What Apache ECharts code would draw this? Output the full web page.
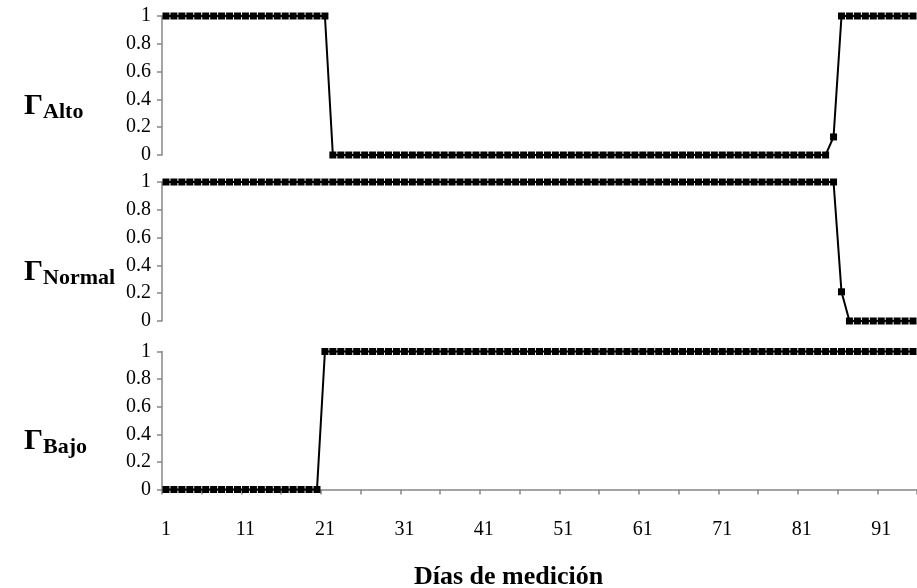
<!DOCTYPE html>
<html>
<head>
<meta charset="utf-8">
<style>html,body{margin:0;padding:0;background:#fff}#c{width:917px;height:588px}</style>
<script src="https://cdn.jsdelivr.net/npm/echarts@6/dist/echarts.min.js"></script>
</head>
<body>
<div id="c"></div>
<script>
// Days of measurement (categories)
var days = [1,2,3,4,5,6,7,8,9,10,11,12,13,14,15,16,17,18,19,20,
  21,22,23,24,25,26,27,28,29,30,31,32,33,34,35,36,37,38,39,40,
  41,42,43,44,45,46,47,48,49,50,51,52,53,54,55,56,57,58,59,60,
  61,62,63,64,65,66,67,68,69,70,71,72,73,74,75,76,77,78,79,80,
  81,82,83,84,85,86,87,88,89,90,91,92,93,94,95];

var alto = [1,1,1,1,1,1,1,1,1,1,1,1,1,1,1,1,1,1,1,1,
  1,0,0,0,0,0,0,0,0,0,0,0,0,0,0,0,0,0,0,0,
  0,0,0,0,0,0,0,0,0,0,0,0,0,0,0,0,0,0,0,0,
  0,0,0,0,0,0,0,0,0,0,0,0,0,0,0,0,0,0,0,0,
  0,0,0,0,0.13,1,1,1,1,1,1,1,1,1,1];

var normal = [1,1,1,1,1,1,1,1,1,1,1,1,1,1,1,1,1,1,1,1,
  1,1,1,1,1,1,1,1,1,1,1,1,1,1,1,1,1,1,1,1,
  1,1,1,1,1,1,1,1,1,1,1,1,1,1,1,1,1,1,1,1,
  1,1,1,1,1,1,1,1,1,1,1,1,1,1,1,1,1,1,1,1,
  1,1,1,1,1,0.21,0,0,0,0,0,0,0,0,0];

var bajo = [0,0,0,0,0,0,0,0,0,0,0,0,0,0,0,0,0,0,0,0,
  1,1,1,1,1,1,1,1,1,1,1,1,1,1,1,1,1,1,1,1,
  1,1,1,1,1,1,1,1,1,1,1,1,1,1,1,1,1,1,1,1,
  1,1,1,1,1,1,1,1,1,1,1,1,1,1,1,1,1,1,1,1,
  1,1,1,1,1,1,1,1,1,1,1,1,1,1,1];

var panelNames = ['Alto', 'Normal', 'Bajo'];
var yTickLabels = ['0', '0.2', '0.4', '0.6', '0.8', '1'];
var xTitle = 'Días de medición';

var FONT = '"Liberation Serif", "Times New Roman", serif';
var AX = '#878787';

var gridTops = [16, 182, 351.5];
var gridHeights = [139, 139, 138];
var seriesData = [alto, normal, bajo];

var grids = [], xAxes = [], yAxes = [], series = [], graphics = [];
for (var i = 0; i < 3; i++) {
  grids.push({left: 162, width: 758, top: gridTops[i], height: gridHeights[i], containLabel: false});
  var last = (i === 2);
  xAxes.push({
    type: 'category', gridIndex: i, data: days, boundaryGap: true,
    axisLine: {show: last, lineStyle: {color: AX, width: 1.5}},
    axisTick: {show: last, interval: 4, length: 5, lineStyle: {color: AX, width: 1.5}},
    axisLabel: {show: last, interval: 9, color: '#000', fontFamily: FONT, fontSize: 20, margin: 30},
    splitLine: {show: false}
  });
  yAxes.push({
    type: 'value', gridIndex: i, min: 0, max: 1, interval: 0.2,
    axisLine: {show: true, lineStyle: {color: AX, width: 1.5}},
    axisTick: {show: true, length: 5, lineStyle: {color: AX, width: 1.5}},
    axisLabel: {color: '#000', fontFamily: FONT, fontSize: 20, margin: 11,
      formatter: function (v) { return yTickLabels[Math.round(v * 5)]; }},
    splitLine: {show: false}
  });
  series.push({
    type: 'line', xAxisIndex: i, yAxisIndex: i, data: seriesData[i],
    symbol: 'rect', symbolSize: 7, showAllSymbol: true,
    lineStyle: {color: '#000', width: 2},
    itemStyle: {color: '#000'},
    animation: false, clip: false
  });
  graphics.push({
    type: 'text', left: 24, top: gridTops[i] + gridHeights[i] / 2 + 3,
    style: {
      text: '{g|Γ}{s|' + panelNames[i] + '}',
      rich: {
        g: {fontFamily: FONT, fontWeight: 'bold', fontSize: 30, fill: '#000', lineHeight: 32},
        s: {fontFamily: FONT, fontWeight: 'bold', fontSize: 22, fill: '#000', lineHeight: 32, padding: [13, 0, 0, 0]}
      }
    }
  });
}
graphics.push({
  type: 'text', left: 414, top: 564,
  style: {text: xTitle, fontFamily: FONT, fontWeight: 'bold', fontSize: 26, fill: '#000'}
});

var chart = echarts.init(document.getElementById('c'), null, {renderer: 'canvas'});
chart.setOption({
  animation: false,
  backgroundColor: '#fff',
  grid: grids, xAxis: xAxes, yAxis: yAxes, series: series,
  graphic: graphics
});
</script>
</body>
</html>
